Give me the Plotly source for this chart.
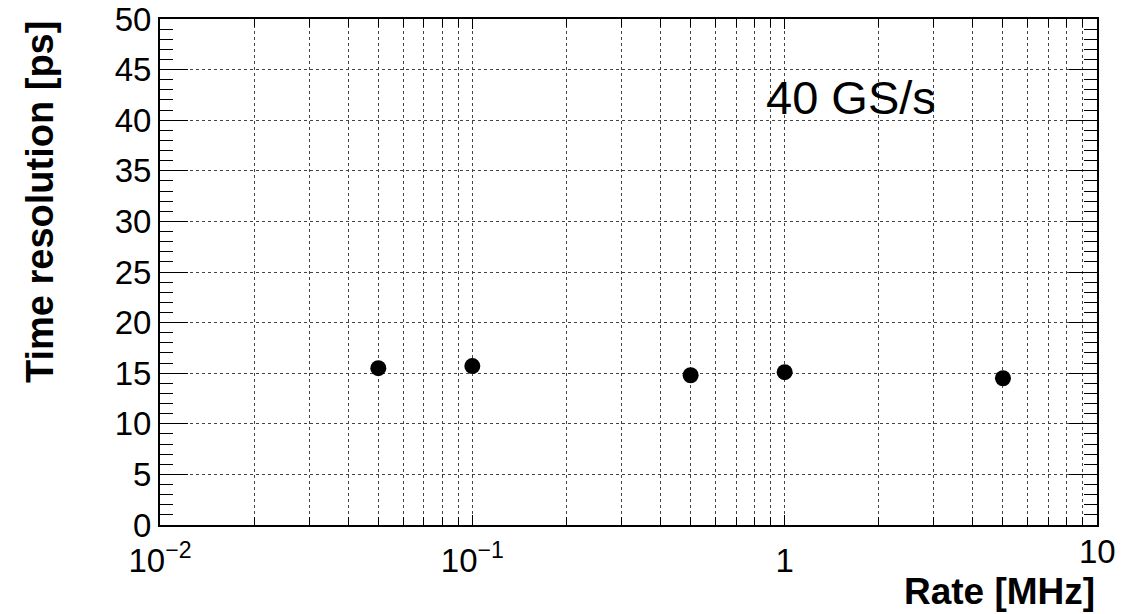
import plotly.graph_objects as go

rate_mhz = [0.05, 0.1, 0.5, 1.0, 5.0]
time_res_ps = [15.5, 15.7, 14.8, 15.1, 14.5]

x_major_vals = [0.01, 0.1, 1]
x_major_text = ["10<sup>−2</sup>", "10<sup>−1</sup>", "1"]
x_minor_vals = [0.02, 0.03, 0.04, 0.05, 0.06, 0.07, 0.08, 0.09,
                0.2, 0.3, 0.4, 0.5, 0.6, 0.7, 0.8, 0.9,
                2, 3, 4, 5, 6, 7, 8, 9, 10]
x_last_label = "10"

y_tick_vals = [0, 5, 10, 15, 20, 25, 30, 35, 40, 45, 50]
y_tick_text = [str(v) for v in y_tick_vals]

FONT = "Liberation Sans, Arial, Helvetica, sans-serif"
GRID = "#444444"

fig = go.Figure()
fig.add_trace(go.Scatter(
    x=rate_mhz, y=time_res_ps, mode="markers",
    marker=dict(color="black", size=16, symbol="circle"),
    showlegend=False,
))

fig.update_layout(
    width=1137, height=614,
    margin=dict(l=160, r=40, t=19, b=89, autoexpand=False),
    paper_bgcolor="white", plot_bgcolor="white",
    font=dict(family=FONT, color="black"),
    xaxis=dict(
        type="log", range=[-2, 1],
        tickmode="array", tickvals=x_major_vals, ticktext=x_major_text,
        ticks="inside", ticklen=10, tickwidth=1, tickcolor="black",
        showline=True, linecolor="black", linewidth=2, mirror="ticks",
        showgrid=True, gridcolor=GRID, griddash="dot", gridwidth=1,
        tickfont=dict(size=33, family=FONT),
        ticklabeloverflow="allow", automargin=False, ticklabelstandoff=5,
        minor=dict(tickmode="array", tickvals=x_minor_vals, ticks="inside", ticklen=8,
                   tickwidth=1, tickcolor="black", showgrid=True,
                   gridcolor=GRID, griddash="dot", gridwidth=1),
        zeroline=False,
    ),
    yaxis=dict(
        range=[0, 50],
        tickmode="array", tickvals=y_tick_vals, ticktext=y_tick_text,
        ticks="inside", ticklen=28, tickwidth=1, tickcolor="black",
        showline=True, linecolor="black", linewidth=2, mirror="ticks",
        showgrid=True, gridcolor=GRID, griddash="dot", gridwidth=1,
        tickfont=dict(size=33, family=FONT),
        ticklabeloverflow="allow", automargin=False,
        minor=dict(dtick=1, ticks="inside", ticklen=13, tickwidth=1, tickcolor="black", showgrid=False),
        zeroline=False,
    ),
)

# last decade label sits raised, as in the ROOT original
fig.add_annotation(
    text=x_last_label, xref="x", yref="paper", x=1, y=-0.052,
    xanchor="center", yanchor="middle", showarrow=False,
    font=dict(size=33, family=FONT, color="black"),
)
fig.add_annotation(
    text="<b>Time resolution [ps]</b>", textangle=-90,
    xref="paper", yref="paper", x=-0.128, y=1.0,
    xanchor="center", yanchor="top", showarrow=False,
    font=dict(size=38, family=FONT, color="black"),
)
fig.add_annotation(
    text="<b>Rate [MHz]</b>",
    xref="paper", yref="paper", x=1.0, y=-0.176,
    xanchor="right", yanchor="bottom", showarrow=False,
    font=dict(size=37, family=FONT, color="black"),
)
fig.add_annotation(
    text="40 GS/s",
    xref="paper", yref="paper", x=0.645, y=0.845,
    xanchor="left", yanchor="middle", showarrow=False,
    font=dict(size=47, family=FONT, color="black"),
)

fig.write_html("out.html")
